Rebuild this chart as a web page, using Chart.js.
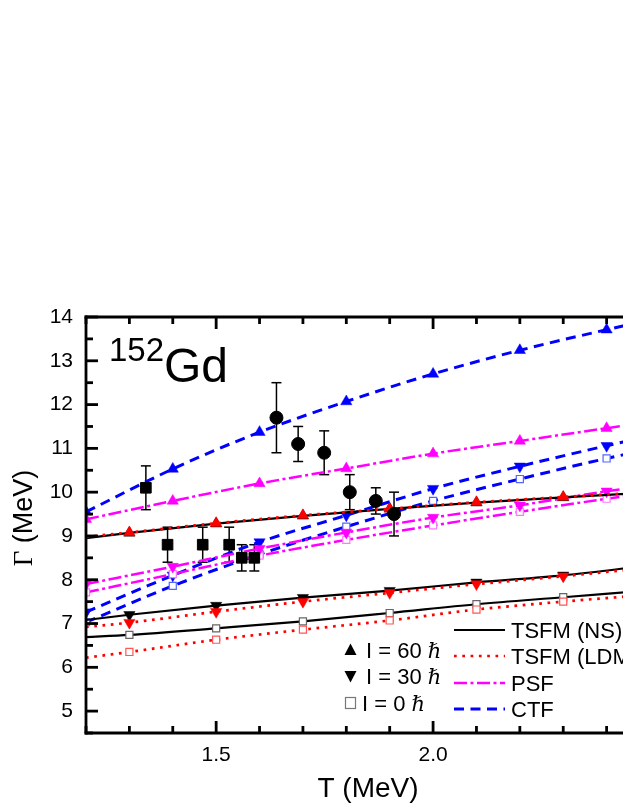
<!DOCTYPE html>
<html><head><meta charset="utf-8">
<script src="https://cdn.jsdelivr.net/npm/chart.js@4.4.0/dist/chart.umd.min.js"></script>
<style>html,body{margin:0;padding:0;overflow:hidden;background:#fff;width:623px;height:806px}
canvas{display:block}</style></head>
<body><canvas id="c" width="700" height="806"></canvas>
<script>
// ---- data ----
const T_EVEN = [1.2, 1.4, 1.6, 1.8, 2.0, 2.2, 2.4, 2.5];
const T_ODD  = [1.2, 1.3, 1.5, 1.7, 1.9, 2.1, 2.3, 2.5];
const CTF_60 = [9.55, 10.53, 11.37, 12.07, 12.70, 13.24, 13.71, 13.93];
const CTF_30 = [7.26, 8.10, 8.86, 9.47, 10.08, 10.59, 11.06, 11.28];
const CTF_0  = [7.03, 7.86, 8.58, 9.21, 9.80, 10.30, 10.77, 10.98];
const PSF_60 = [9.38, 9.80, 10.20, 10.54, 10.88, 11.17, 11.46, 11.60];
const PSF_30 = [7.90, 8.30, 8.71, 9.08, 9.42, 9.70, 10.02, 10.15];
const PSF_0  = [7.71, 8.13, 8.55, 8.91, 9.24, 9.55, 9.85, 9.99];
const NS_60  = [8.95, 9.07, 9.28, 9.46, 9.62, 9.76, 9.88, 9.99];
const NS_30  = [7.08, 7.20, 7.41, 7.59, 7.75, 7.94, 8.10, 8.33];
const NS_0   = [6.69, 6.74, 6.89, 7.05, 7.24, 7.44, 7.60, 7.76];
const LDM_60 = [8.98, 9.08, 9.29, 9.47, 9.62, 9.77, 9.89, 10.00];
const LDM_30 = [6.92, 7.02, 7.27, 7.50, 7.70, 7.90, 8.08, 8.28];
const LDM_0  = [6.22, 6.35, 6.63, 6.86, 7.07, 7.32, 7.50, 7.66];
const EXP_SQ_T   = [1.338, 1.388, 1.469, 1.530, 1.559, 1.588];
const EXP_SQ_G   = [10.1, 8.8, 8.8, 8.8, 8.5, 8.5];
const EXP_SQ_ERR = [0.5, 0.4, 0.4, 0.4, 0.3, 0.3];
const EXP_CI_T   = [1.639, 1.689, 1.749, 1.808, 1.868, 1.910];
const EXP_CI_G   = [11.7, 11.1, 10.9, 10.0, 9.8, 9.5];
const EXP_CI_ERR = [0.8, 0.4, 0.5, 0.4, 0.3, 0.5];
const X_MIN = 1.2, X_MAX = 2.5, Y_MIN = 4.5, Y_MAX = 14;
const LEGEND_LINES = ['TSFM (NS)', 'TSFM (LDM)', 'PSF', 'CTF'];
const LEGEND_SPINS = ['I = 60 ', 'I = 30 ', 'I = 0 '];

const pts = (ts, vs) => ts.map((t, i) => ({x: t, y: vs[i]}));
const SANS = '"Liberation Sans", Arial, sans-serif';

const BLUE = '#0000ff', MAG = '#ff00ff', RED = '#ff0000';
const STY = {
  CTF: {c: BLUE, w: 3, dash: [10, 6.5], open: '#5566ff'},
  PSF: {c: MAG, w: 2.5, dash: [13, 3.5, 3, 3.5], open: '#ff77ff'},
  NS:  {c: '#000', w: 2.2, dash: [], open: '#666666'},
  LDM: {c: RED, w: 2.7, dash: [2.7, 5.6], open: '#ff5555'}
};
function modelDs(model, spin, ts, vs, skipFirst) {
  const s = STY[model];
  const r = spin === 0 ? 5 : 6.5;
  const radii = ts.map((t, i) => (skipFirst && i === 0) ? 0 : r);
  return {
    data: pts(ts, vs), showLine: true, cubicInterpolationMode: 'monotone',
    borderColor: s.c, borderWidth: s.w, borderDash: s.dash,
    pointStyle: spin === 0 ? 'rect' : 'triangle',
    rotation: spin === 30 ? 180 : 0,
    pointRadius: radii, pointHoverRadius: radii,
    pointBackgroundColor: spin === 0 ? '#ffffff' : s.c,
    pointBorderColor: spin === 0 ? s.open : s.c,
    pointBorderWidth: spin === 0 ? 1.2 : 0.5,
    clip: 0
  };
}

const datasets = [
  {data: pts(EXP_SQ_T, EXP_SQ_G), pointStyle: 'rect', pointRadius: 7.5, backgroundColor: '#000', borderColor: '#000', showLine: false, clip: 0, errs: EXP_SQ_ERR},
  {data: pts(EXP_CI_T, EXP_CI_G), pointStyle: 'circle', pointRadius: 6.5, backgroundColor: '#000', borderColor: '#000', showLine: false, clip: 0, errs: EXP_CI_ERR},
  modelDs('LDM', 60, T_ODD, LDM_60, true),
  modelDs('LDM', 30, T_ODD, LDM_30, true),
  modelDs('LDM', 0, T_ODD, LDM_0, true),
  modelDs('NS', 60, T_ODD, NS_60, true),
  modelDs('NS', 30, T_ODD, NS_30, true),
  modelDs('NS', 0, T_ODD, NS_0, true),
  modelDs('PSF', 60, T_EVEN, PSF_60, false),
  modelDs('PSF', 30, T_EVEN, PSF_30, false),
  modelDs('PSF', 0, T_EVEN, PSF_0, false),
  modelDs('CTF', 60, T_EVEN, CTF_60, false),
  modelDs('CTF', 30, T_EVEN, CTF_30, false),
  modelDs('CTF', 0, T_EVEN, CTF_0, false)
];

function line(ctx, x1, y1, x2, y2) { ctx.beginPath(); ctx.moveTo(x1, y1); ctx.lineTo(x2, y2); ctx.stroke(); }

const errPlugin = {
  id: 'err',
  beforeDatasetsDraw(chart) {
    const ctx = chart.ctx, xs = chart.scales.x, ys = chart.scales.y;
    ctx.save(); ctx.strokeStyle = '#000'; ctx.lineWidth = 1.5; ctx.setLineDash([]);
    chart.data.datasets.forEach(ds => {
      if (!ds.errs) return;
      ds.data.forEach((p, i) => {
        const x = xs.getPixelForValue(p.x);
        const yt = ys.getPixelForValue(p.y + ds.errs[i]);
        const yb = ys.getPixelForValue(p.y - ds.errs[i]);
        line(ctx, x, yt, x, yb); line(ctx, x - 5, yt, x + 5, yt); line(ctx, x - 5, yb, x + 5, yb);
      });
    });
    ctx.restore();
  }
};

const decoPlugin = {
  id: 'deco',
  afterDraw(chart) {
    const ctx = chart.ctx, ca = chart.chartArea, xs = chart.scales.x, ys = chart.scales.y;
    ctx.save();
    ctx.strokeStyle = '#000'; ctx.lineWidth = 2.8; ctx.setLineDash([]); ctx.lineCap = 'square';
    line(ctx, ca.left, ca.top, ca.left, ca.bottom);
    line(ctx, ca.left, ca.bottom, ca.right, ca.bottom);
    line(ctx, ca.left, ca.top, ca.right, ca.top);
    ctx.lineCap = 'butt';
    xs.ticks.forEach(t => {
      const r = Math.round(t.value * 10);
      const x = xs.getPixelForValue(t.value);
      const len = r % 5 === 0 ? 12 : 7;
      line(ctx, x, ca.bottom, x, ca.bottom - len);
      line(ctx, x, ca.top, x, ca.top + len);
    });
    ys.ticks.forEach(t => {
      const y = ys.getPixelForValue(t.value);
      const len = Number.isInteger(t.value) ? 12 : 7;
      line(ctx, ca.left, y, ca.left + len, y);
    });

    // axis titles
    ctx.fillStyle = '#000'; ctx.textBaseline = 'alphabetic';
    ctx.font = '28px ' + SANS;
    let w = ctx.measureText('T (MeV)').width;
    ctx.textAlign = 'left';
    ctx.fillText('T (MeV)', (ca.left + ca.right) / 2 - w / 2, 797);
    ctx.save();
    ctx.translate(32, 518); ctx.rotate(-Math.PI / 2);
    ctx.font = '27px "Liberation Serif", serif';
    const wg = ctx.measureText('\u0393').width;
    ctx.font = '27px ' + SANS;
    const wr = ctx.measureText(' (MeV)').width;
    const x0 = -(wg + wr) / 2;
    ctx.font = '27px "Liberation Serif", serif';
    ctx.fillText('\u0393', x0, 0);
    ctx.font = '27px ' + SANS;
    ctx.fillText(' (MeV)', x0 + wg, 0);
    ctx.restore();

    // nucleus label
    ctx.font = '33px ' + SANS;
    ctx.fillText('152', 109, 361);
    ctx.font = '48px ' + SANS;
    ctx.fillText('Gd', 164, 381.5);

    // legend: line styles
    const rows = [630, 656, 683, 709];
    const styles = [STY.NS, STY.LDM, STY.PSF, STY.CTF];
    rows.forEach((y, i) => {
      const s = styles[i];
      ctx.strokeStyle = s.c; ctx.lineWidth = s.w; ctx.setLineDash(s.dash);
      line(ctx, 454, y, 505, y);
      ctx.setLineDash([]);
      ctx.font = '22px ' + SANS;
      ctx.fillText(LEGEND_LINES[i], 511, y + 8);
    });

    // legend: spins
    const srow = [650, 676, 703];
    ctx.fillStyle = '#000';
    ctx.beginPath(); ctx.moveTo(350.5, srow[0] - 6.5); ctx.lineTo(356.5, srow[0] + 5); ctx.lineTo(344.5, srow[0] + 5); ctx.closePath(); ctx.fill();
    ctx.beginPath(); ctx.moveTo(350.5, srow[1] + 6.5); ctx.lineTo(356.5, srow[1] - 5); ctx.lineTo(344.5, srow[1] - 5); ctx.closePath(); ctx.fill();
    ctx.strokeStyle = '#777'; ctx.lineWidth = 1.2;
    ctx.strokeRect(345.5, srow[2] - 5.5, 10, 11);
    const sx = [366, 366, 362];
    srow.forEach((y, i) => {
      ctx.font = '22px ' + SANS;
      ctx.fillText(LEGEND_SPINS[i], sx[i], y + 8);
      const ww = ctx.measureText(LEGEND_SPINS[i]).width;
      ctx.font = 'italic 21px "DejaVu Serif", serif';
      ctx.fillText('\u210F', sx[i] + ww, y + 8);
    });
    ctx.restore();
  }
};

new Chart(document.getElementById('c'), {
  type: 'scatter',
  data: {datasets},
  options: {
    responsive: false, animation: false, devicePixelRatio: 1,
    layout: {padding: {left: 0, top: 317, right: 50, bottom: 0}},
    plugins: {legend: {display: false}, tooltip: {enabled: false}},
    elements: {point: {hoverRadius: 0}},
    scales: {
      x: {
        type: 'linear', min: X_MIN, max: X_MAX,
        grid: {display: false, drawTicks: false}, border: {display: false},
        afterFit(s) { s.height = 806 - 733; },
        ticks: {
          stepSize: 0.1, autoSkip: false, maxRotation: 0, padding: 10,
          color: '#000', font: {family: SANS, size: 21},
          callback(v) { const r = Math.round(v * 10); return r % 5 === 0 ? (r / 10).toFixed(1) : ''; }
        }
      },
      y: {
        type: 'linear', min: Y_MIN, max: Y_MAX,
        grid: {display: false, drawTicks: false}, border: {display: false},
        afterFit(s) { s.width = 86; },
        ticks: {
          stepSize: 0.5, autoSkip: false, padding: 13,
          color: '#000', font: {family: SANS, size: 21},
          callback(v) { return Number.isInteger(v) ? String(v) : ''; }
        }
      }
    }
  },
  plugins: [errPlugin, decoPlugin]
});
</script>
</body></html>
